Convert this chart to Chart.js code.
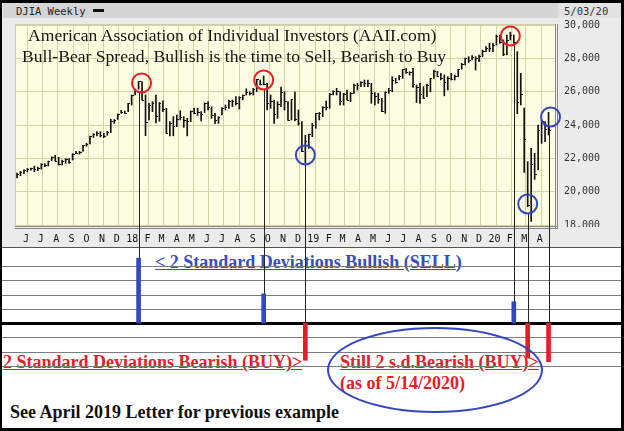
<!DOCTYPE html>
<html>
<head>
<meta charset="utf-8">
<script src="https://cdn.jsdelivr.net/npm/chart.js@4.4.1/dist/chart.umd.min.js"></script>
<style>
  html, body { margin: 0; padding: 0; background: #fff; }
  #page { position: relative; width: 624px; height: 431px; overflow: hidden; background: #fff; }
  #top { position: absolute; left: 0; top: 0; width: 624px; height: 247px; background: #ebebeb; border-bottom: 1px solid #555; }
  #hdrLeft { position: absolute; left: 3px; top: 3px; width: 555px; height: 15px; background: #d5d5d5; }
  #hdrRight { position: absolute; left: 558px; top: 3px; width: 63px; height: 15px; background: #e2e2e2; }
  #hdrMark { position: absolute; left: 93px; top: 9px; width: 11px; height: 3px; background: #111; }
  .mono { position: absolute; font-family: "DejaVu Sans Mono", monospace; font-size: 10.5px; line-height: 1; color: #222; white-space: nowrap; }
  .serif { position: absolute; font-family: "Liberation Serif", "Times New Roman", serif; line-height: 1; white-space: nowrap; }
  .title { font-size: 17.6px; color: #151515; }
  .note { font-size: 18px; font-weight: bold; }
  .blue { color: #3a4cc0; text-decoration: underline; }
  .red { color: #e2202a; }
  .ul { text-decoration: underline; }
  canvas { position: absolute; left: 0; }
  #priceChart { top: 0; }
  #signalChart { top: 247px; }
  #ellipse { position: absolute; left: 327px; top: 327px; width: 216px; height: 86px; box-sizing: border-box; border: 2px solid #3446c0; border-radius: 50%; }
  #frame { position: absolute; left: 0; top: 0; width: 624px; height: 431px; box-sizing: border-box; border: 3px solid #000; border-left-width: 2px; }
</style>
</head>
<body>
<div id="page">
  <div id="top"></div>
  <div id="hdrLeft"></div>
  <div id="hdrRight"></div>
  <div class="mono" style="left:16px; top:5.5px;">DJIA Weekly</div>
  <div id="hdrMark"></div>
  <div class="mono" style="left:564px; top:5.5px; color:#333;">5/03/20</div>
  <canvas id="priceChart" width="624" height="247"></canvas>
  <div class="serif title" style="left:28px; top:27px;">American Association of Individual Investors (AAII.com)</div>
  <div class="serif title" style="left:22px; top:48px;">Bull-Bear Spread, Bullish is the time to Sell, Bearish to Buy</div>

  <div class="serif note blue" style="left:155px; top:252.5px;">&lt; 2 Standard Deviations Bullish (SELL)</div>
  <div class="serif note red ul" style="left:3px; top:353px;">2 Standard Deviations Bearish (BUY)&gt;</div>
  <div class="serif note red ul" style="left:340px; top:353px;">Still 2 s.d.Bearish (BUY)&gt;</div>
  <div class="serif note red" style="left:340px; top:374px;">(as of 5/14/2020)</div>
  <div class="serif note" style="left:10px; top:402.5px; color:#111;">See April 2019 Letter for previous example</div>
  <canvas id="signalChart" width="624" height="184"></canvas>
  <div id="ellipse"></div>
  <div id="frame"></div>
</div>
<script>
// DJIA weekly bars (week ending Friday), first bar = 26 May 2017
const firstWeek = Date.UTC(2017, 4, 26);

const weekHigh = [
  21112, 21225, 21305, 21392, 21420, 21536, 21480, 21681, 21681, 21830, 22092, 22180, 22060, 21890, 21990, 21990,
  22280, 22420, 22420, 22780, 22900, 23330, 23480, 23600, 23600, 23500, 23620, 24340, 24330, 24660, 24880, 24840,
  25300, 25800, 26150, 26616, 26600, 25800, 25300, 25400, 25800, 25350, 25450, 25000, 24200, 24500, 24600, 24860,
  24500, 24400, 24840, 25010, 25010, 24800, 25330, 25400, 25100, 24700, 24500, 25050, 25200, 25500, 25500, 25700,
  25700, 25800, 26170, 26000, 26200, 26750, 26700, 26950, 26500, 25800, 25500, 25400, 26280, 26000, 25400, 25540,
  25980, 24900, 24200, 23380,
  23450, 24100, 24700, 24750, 25100, 25440, 25900, 26050, 26200, 26000, 25900, 26100, 25950, 26450, 26500, 26600,
  26700, 26700, 26500, 25950, 25900, 25600, 25990, 26200, 26900, 26800, 26970, 27340, 27400, 27200, 27400, 26400,
  26500, 26300, 26450, 26800, 27300, 27220, 27100, 27000, 26900, 27100, 27000, 27350, 27700, 28010, 28100, 28170,
  28100, 28200, 28500, 28700,
  28900, 28900, 29400, 29400, 29100, 29400, 29568, 29400, 28400, 27100, 25020, 21800, 22600, 22300, 24000, 24300,
  24200, 24764
];
const weekLow = [
  20820, 20960, 21080, 21180, 21290, 21197, 21260, 21350, 21500, 21540, 21860, 21840, 21600, 21600, 21700, 21700,
  21900, 22280, 22250, 22420, 22720, 22860, 23250, 23340, 23280, 23240, 23380, 23550, 24100, 24330, 24700, 24700,
  24800, 25200, 25800, 26150, 25500, 23360, 24300, 24800, 24120, 24230, 24800, 23500, 23340, 23350, 23900, 24300,
  23860, 23350, 24200, 24670, 24580, 24250, 24750, 24900, 24400, 24080, 24100, 24600, 24900, 25000, 25100, 25200,
  24960, 25500, 25800, 25800, 25800, 26000, 26400, 26400, 24900, 25000, 24100, 24400, 25100, 24900, 24270, 24300,
  24240, 24000, 22400, 21712,
  22600, 23300, 23800, 24300, 24500, 24900, 25000, 25800, 25800, 25200, 25200, 25500, 25400, 25900, 26100, 26300,
  26300, 26300, 25300, 25200, 25300, 24800, 24700, 25900, 26000, 26500, 26700, 26800, 27100, 27000, 26250, 25350,
  25300, 25600, 25700, 26000, 26800, 26900, 26700, 25750, 26100, 26700, 26700, 26900, 27350, 27600, 27750, 27900,
  27300, 27800, 28100, 28400,
  28400, 28400, 28800, 28900, 28160, 28200, 29100, 28900, 24681, 25200, 21154, 19094, 18214, 20735, 21300, 22900,
  23000, 23400
];
const weekClose = [
  21080, 21206, 21272, 21384, 21395, 21350, 21414, 21638, 21580, 21830, 22092, 21858, 21675, 21814, 21988, 21798,
  22268, 22350, 22405, 22773, 22872, 23329, 23434, 23539, 23422, 23358, 23558, 24231, 24329, 24651, 24754, 24719,
  25296, 25803, 26071, 26616, 25521, 24190, 25219, 25310, 24538, 25335, 24946, 23533, 24103, 23933, 24360, 24463,
  24311, 24263, 24831, 24715, 24753, 24635, 25317, 25090, 24581, 24271, 24456, 25019, 25058, 25451, 25463, 25313,
  25669, 25790, 25965, 25916, 26155, 26744, 26458, 26447, 25340, 25444, 24688, 25271, 25989, 25413, 24286, 25538,
  24389, 24100, 22445, 23062,
  23433, 23996, 24706, 24737, 25064, 25106, 25883, 26031, 26026, 25450, 25849, 25502, 25929, 26425, 26412, 26559,
  26543, 26505, 25942, 25764, 25585, 24815, 25983, 26090, 26719, 26600, 26922, 27332, 27154, 27192, 26485, 26287,
  25886, 25629, 26403, 26797, 27220, 26935, 26820, 26573, 26816, 26770, 26958, 27347, 27681, 28005, 27876, 28051,
  28015, 28135, 28455, 28645,
  28634, 28823, 29348, 28989, 28256, 29102, 29398, 28992, 25409, 25864, 23186, 19174, 21637, 21053, 23719, 24242,
  23775, 23724
];

// month gridlines start at June 2017
const monthLabels = ['J','J','A','S','O','N','D','18','F','M','A','M','J','J','A','S','O','N','D','19',
                     'F','M','A','M','J','J','A','S','O','N','D','20','F','M','A'];
const priceTicks = [18000, 20000, 22000, 24000, 26000, 28000, 30000];

// AAII bull-bear spread extremes marked on the chart
const signalDates = ['2018-01-26', '2018-10-05', '2018-12-28', '2020-02-21', '2020-03-20', '2020-05-01'];
const signalSize = [4.55, 2.05, -2.6, 1.5, -2.45, -2.7];   // + bullish (sell), - bearish (buy)
const circleDates = ['2018-02-01', '2018-10-05', '2018-12-28', '2020-02-14', '2020-03-20', '2020-05-05'];
const circleLevels = [26520, 26700, 22200, 29340, 19260, 24480];
const ruleLevels = [-3, -2, -1, 0, 1, 2, 3, 4];

const BLUE = '#3446c0';
const RED = '#e2202a';

function dayOf(s) { return (Date.parse(s) - firstWeek) / 864e5; }
const monthDays = monthLabels.map((_, k) => (Date.UTC(2017, 5 + k, 1) - firstWeek) / 864e5);
const signalDays = signalDates.map(dayOf);
const X_MIN = -4, X_MAX = 1084;

Chart.defaults.font.family = 'DejaVu Sans Mono';

// yellow plot background + grey frame
const plotFrame = {
  id: 'plotFrame',
  beforeDraw(chart) {
    const a = chart.chartArea, ctx = chart.ctx;
    ctx.save();
    ctx.fillStyle = '#fdfde1';
    ctx.fillRect(a.left, a.top, a.right - a.left, a.bottom - a.top);
    ctx.restore();
  },
  afterDraw(chart) {
    const a = chart.chartArea, ctx = chart.ctx;
    ctx.save();
    // the bottom price label sits half under the frame
    ctx.fillStyle = '#ebebeb';
    ctx.fillRect(a.right + 3, a.bottom + 1, chart.width - a.right, 6);
    ctx.fillStyle = '#cfcdb0';
    ctx.fillRect(a.left, a.top, a.right - a.left, 1);
    ctx.fillRect(a.left, a.top, 1, a.bottom - a.top);
    ctx.fillStyle = '#8c8c8c';
    ctx.fillRect(a.left, a.bottom, a.right - a.left + 3, 1);
    ctx.fillRect(a.left, a.bottom + 2, a.right - a.left + 3, 1);
    ctx.fillRect(a.right, a.top, 1, a.bottom - a.top + 3);
    ctx.fillRect(a.right + 2, a.top, 1, a.bottom - a.top + 3);
    ctx.restore();
  }
};

// close tick on the right of each weekly bar
const closeTicks = {
  id: 'closeTicks',
  afterDatasetsDraw(chart) {
    const xs = chart.scales.x, ys = chart.scales.y, ctx = chart.ctx;
    ctx.save();
    ctx.fillStyle = '#111';
    weekClose.forEach((c, i) => {
      const x = xs.getPixelForValue(i * 7);
      const y = ys.getPixelForValue(c);
      ctx.fillRect(Math.round(x), Math.round(y), 2, 1);
    });
    ctx.restore();
  }
};

// circles on the price chart and the lines running down to the signal bars
const signalCircles = {
  id: 'signalCircles',
  afterDraw(chart) {
    const xs = chart.scales.x, ys = chart.scales.y, ctx = chart.ctx;
    const r = 9.5;
    ctx.save();
    signalDays.forEach((d, i) => {
      const cx = xs.getPixelForValue(dayOf(circleDates[i]));
      const cy = ys.getPixelForValue(circleLevels[i]);
      ctx.strokeStyle = '#222';
      ctx.lineWidth = 1;
      const lx = Math.round(xs.getPixelForValue(d)) + 0.5;
      ctx.beginPath();
      ctx.moveTo(lx, cy + r);
      ctx.lineTo(lx, chart.height);
      ctx.stroke();
      ctx.strokeStyle = signalSize[i] > 0 ? RED : BLUE;
      ctx.lineWidth = 2;
      ctx.beginPath();
      ctx.arc(cx, cy, r, 0, Math.PI * 2);
      ctx.stroke();
    });
    ctx.restore();
  }
};

new Chart(document.getElementById('priceChart'), {
  type: 'bar',
  data: {
    datasets: [{
      data: weekHigh.map((h, i) => ({ x: i * 7, y: [weekLow[i], h] })),
      backgroundColor: '#111',
      barThickness: 1
    }]
  },
  options: {
    responsive: false,
    animation: false,
    events: [],
    layout: { padding: { left: 15, top: 24, right: 0, bottom: 0 } },
    plugins: { legend: { display: false }, tooltip: { enabled: false } },
    scales: {
      x: {
        type: 'linear', min: X_MIN, max: X_MAX, offset: false,
        afterBuildTicks: s => { s.ticks = monthDays.map(v => ({ value: v })); },
        afterFit: s => { s.height = 21; },
        grid: { color: '#d6d3a4', drawTicks: false },
        border: { display: false },
        ticks: {
          autoSkip: false, maxRotation: 0, padding: 7, labelOffset: 6,
          color: '#111', font: { size: 10 },
          callback: (v, i) => monthLabels[i]
        }
      },
      y: {
        position: 'right', min: 17940, max: 30060,
        afterBuildTicks: s => { s.ticks = priceTicks.map(v => ({ value: v })); },
        afterFit: s => { s.width = 69; },
        grid: { color: '#d6d3a4', drawTicks: false },
        border: { display: false },
        ticks: {
          padding: 9, color: '#333', font: { size: 10 },
          callback: v => v.toLocaleString('en-US')
        }
      }
    }
  },
  plugins: [plotFrame, closeTicks, signalCircles]
});

// ruled lines of the lower panel (zero line heavy)
const ruledLines = {
  id: 'ruledLines',
  beforeDatasetsDraw(chart) {
    const ys = chart.scales.y, ctx = chart.ctx;
    ctx.save();
    ruleLevels.forEach(v => {
      const y = ys.getPixelForValue(v);
      if (v === 0) {
        ctx.fillStyle = '#000';
        ctx.fillRect(0, Math.round(y) - 1, chart.width, 3);
      } else {
        ctx.fillStyle = '#7c7c7c';
        ctx.fillRect(0, Math.round(y), chart.width, 1);
      }
    });
    ctx.restore();
  },
  afterDatasetsDraw(chart) {
    const xs = chart.scales.x, ys = chart.scales.y, ctx = chart.ctx;
    ctx.save();
    ctx.strokeStyle = '#222';
    ctx.lineWidth = 1;
    signalDays.forEach((d, i) => {
      const lx = Math.round(xs.getPixelForValue(d)) + 0.5;
      const end = ys.getPixelForValue(Math.max(signalSize[i], 0));
      ctx.beginPath();
      ctx.moveTo(lx, 0);
      ctx.lineTo(lx, end);
      ctx.stroke();
    });
    ctx.restore();
  }
};

new Chart(document.getElementById('signalChart'), {
  type: 'bar',
  data: {
    datasets: [{
      data: signalDays.map((d, i) => ({ x: d, y: signalSize[i] })),
      backgroundColor: signalSize.map(v => v > 0 ? BLUE : RED),
      barThickness: 4,
      clip: false
    }]
  },
  options: {
    responsive: false,
    animation: false,
    events: [],
    layout: { padding: { left: 15, right: 69, top: 19, bottom: 65 } },
    plugins: { legend: { display: false }, tooltip: { enabled: false } },
    scales: {
      x: { type: 'linear', min: X_MIN, max: X_MAX, offset: false, display: false },
      y: { min: -3, max: 4, display: false }
    }
  },
  plugins: [ruledLines]
});
</script>
</body>
</html>
